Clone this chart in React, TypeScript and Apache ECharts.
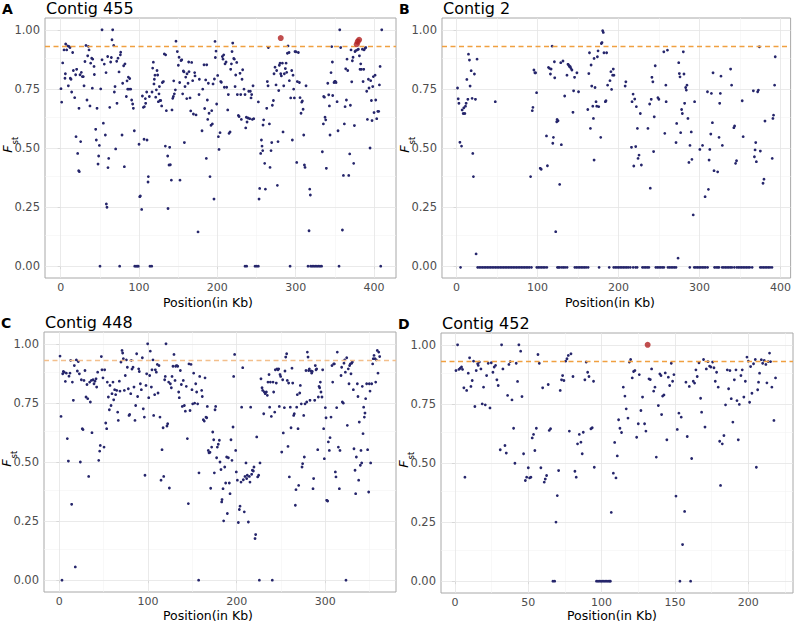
import React, { useEffect, useRef } from "react";
import * as echarts from "echarts";

// ---------------- DATA ----------------
const contig455: [number, number][] = [
[0.4,0.751],[1.3,0.694],[2.6,0.86],[4.3,0.915],[5.5,0.795],[6,0.814],[6.4,0.94],[7.7,0.915],[8.9,0.932],[9.8,0.763],[10.6,0.93],[11.9,0.925],[12.3,0.795],[13.2,0.791],[14,0.737],[15.3,0.904],[16.2,0.828],[17.9,0.713],[19.1,0.81],[19.6,0.548],[20.4,0.833],[21.7,0.477],[23,0.404],[23.4,0.668],[23.8,0.4],[24.7,0.81],[25.5,0.527],[26.4,0.82],[27.7,0.802],[28.9,0.802],[29.8,0.763],[31,0.866],[32.3,0.934],[33.6,0.703],[34.5,0.89],[35.3,0.93],[36.2,0.915],[37.4,0.678],[38.3,0.859],[39.6,0.88],[40.4,0.753],[40.9,0.876],[42.6,0.845],[43,0.811],[44.7,0.579],[45.5,0.534],[46.4,0.668],[47.7,0.432],[48.5,0.466],[49.4,0.511],[50.2,0],[51.1,0.75],[52.8,0.873],[52.8,1],[54.5,0.605],[55.7,0.855],[57,0.555],[57.9,0.819],[58.3,0.263],[59.1,0.249],[60,0.887],[60.4,0.417],[61.3,0.456],[62.6,0.672],[63.8,0.864],[64.7,0.883],[65.5,0.958],[66.4,1],[67.7,0.934],[68.5,0.737],[69.4,0.76],[70.2,0.496],[71.5,0.867],[71.9,0.689],[73.2,0.88],[74.5,0.822],[75.3,0],[76.2,0.894],[76.6,0.905],[78.3,0.555],[79.1,0.774],[80.4,0.848],[81.3,0.421],[82.1,0.856],[83.8,0.718],[84.7,0.784],[85.5,0.749],[86.4,0.8],[87.2,0.749],[88.1,0.794],[89.4,0.749],[90.6,0.703],[91.9,0.686],[92.8,0.668],[94,0.573],[94.5,0],[96.2,0],[97.9,0],[99.1,0],[100,0.516],[100.9,0.294],[101.7,0.297],[103.4,0.24],[104.3,0.72],[105.5,0.672],[106.4,0.537],[106.8,0.675],[108.1,0.709],[108.5,0.689],[109.8,0.737],[110.2,0.534],[111.5,0.356],[111.9,0.379],[113.2,0.718],[114,0],[116.2,0],[116.6,0.737],[117.4,0.838],[118.3,0.863],[119.1,0.771],[119.6,0.791],[120.4,0.808],[121.3,0.715],[122.1,0.746],[123,0.828],[123.8,0.809],[124.7,0.696],[125.5,0.729],[126,0.76],[126.8,0.701],[127.7,0.701],[128.9,0.678],[129.8,0.777],[131.1,0.781],[132.3,0.898],[133.6,0.508],[134,0.894],[134.9,0.658],[136.6,0.466],[137,0.244],[138.3,0.428],[139.1,0.503],[140,0.429],[141.3,0.364],[142.1,0.661],[143,0.71],[143.8,0.718],[144.3,0.784],[145.1,0.729],[146.4,0.746],[147.2,0.952],[148.9,0.908],[150.2,0.85],[151.1,0.884],[151.9,0.777],[152.3,0.364],[153.6,0.87],[154.5,0.873],[155.7,0.729],[156.6,0.826],[157.4,0.822],[157.9,0.523],[158.7,0.76],[159.6,0.8],[160.9,0.709],[161.3,0.814],[162.6,0.774],[163.4,0.864],[163.8,0.823],[165.1,0.712],[166,0.657],[167.2,0.862],[168.5,0.785],[169.4,0.644],[171,0.819],[171.5,0.805],[172.8,0.64],[175.3,0.145],[176.6,0.726],
[177,0.791],[180.4,0.573],[181.3,0.749],[183,0.852],[183.8,0.667],[185.1,0.788],[185.9,0.456],[186.4,0.852],[187.2,0.703],[187.7,0.621],[188.5,0.774],[189.4,0.647],[190.6,0.379],[191.9,0.596],[192.8,0.658],[193.6,0.602],[194.5,0.771],[195.7,0.284],[196.2,0.792],[197,0.951],[197.4,0.883],[198.3,0.91],[199.1,0.686],[200.4,0.807],[201.3,0.548],[202.1,0.494],[203.4,0.565],[204.3,0.781],[205.1,0.778],[206.4,0.887],[207.2,0.876],[208.1,0.894],[208.9,0.757],[209.8,0.856],[211.1,0.864],[211.9,0.757],[213.2,0.661],[214,0.726],[214.9,0.562],[216.2,0.568],[217,0.833],[217.9,0.856],[218.7,0.908],[219.6,0.944],[220.9,0.879],[221.7,0.876],[222.6,0.76],[223.4,0.809],[224.7,0.862],[225.5,0.726],[226.8,0.638],[227.7,0.633],[228.9,0.816],[229.8,0.726],[230.6,0.621],[231.5,0.791],[232.3,0.831],[234,0.749],[235.3,0.726],[236.2,0.585],[237,0.63],[235.3,0],[237.4,0],[237.9,0.61],[239.1,0.627],[240,0.74],[241.3,0.624],[242.1,0.74],[243,0.712],[243.8,0.726],[244.7,0.621],[245.5,0.763],[246.4,0.624],[248.1,0],[250.2,0],[252.3,0],[252.3,0.695],[253.2,0.284],[254,0.329],[255.3,0.477],[256.2,0.534],[257,0.508],[257.9,0.489],[258.3,0.597],[259.1,0.619],[260.4,0.435],[261.3,0.326],[263,0.668],[263.8,0.781],[264.7,0.763],[265.1,0.925],[266.4,0.602],[267.2,0.418],[268.5,0.489],[269.4,0.523],[270.2,0.681],[271.5,0.701],[272.3,0.814],[273.6,0.842],[274.9,0.767],[275.7,0.828],[276.6,0.342],[277.4,0.527],[278.3,0.743],[279.1,0.85],[280,0.859],[280.9,0.814],[281.7,0.805],[283,0.859],[283.8,0.568],[284.7,0.763],[285.5,0.814],[286.8,0.836],[287.7,0.859],[288.5,0.82],[289.4,0.901],[290.2,0.932],[291.5,0.904],[291.9,0.785],[292.8,0],[293.6,0.712],[294.9,0.828],[295.7,0.534],[296.6,0.808],[297.4,0.749],[298.3,0.712],[299.1,0.908],[300.4,0.907],[301.3,0.439],[302.1,0.781],[303.4,0.904],[304.7,0.777],[305.5,0.713],[306.8,0.647],[307.7,0.694],[308.5,0.699],[309.4,0.664],[310.2,0.555],[311.1,0.428],[311.9,0.418],[313.2,0.763],[315.7,0],[317,0.15],[317.9,0.326],[318.7,0.301],[319,0],[321,0],[323,0],[325,0],[327,0],[329,0],[331,0],[333,0],[334,0.484],[335.3,0.602],[335.7,0.718],[336.6,0.715],[337.4,0.63],[338.3,0.619],[339.1,0.414],[340.9,0.774],[342.1,0.725],[343,0.678],[343.8,0.555],[345.1,0.819],[346,0.929],[346.8,0.864],[347.2,0.722],[348.9,0.777],[349.8,0.782],[350.6,0.782],[351.5,0.777],[352.8,0.696],[354,0.573],[355.3,0],[356.2,1],[357.4,0.925],[359.6,0.153],[360.9,0.384],[362.1,0.602],[363,0.675],[363.8,0.835],[364.7,0.703],[365.5,0.876],[366.4,0.828],[367.7,0.384],[368.9,0.475],[369.8,0.681],[370.6,0.915],[371.5,0.78],[372.3,0.869],[373.2,0.884],[374,0.435],[374.9,0.595],[375.7,0.908],[376.6,0.912],[378.7,0.915],[380,0.918],[381.3,0.89],[382.1,0.833],[383,0.856],[383.8,0.833],[385.1,0.918],[386,0.781],[386.8,0.833],[387.2,0.915],[388.5,0.922],[389.4,0.925],[390.6,0.74],[391.5,0.621],[392.8,0.791],[393.6,0.754],[394.9,0.5],[395.7,0.785],[396.6,0.701],[397.4,0.616],[398.3,0.76],[399.1,0.802],[400,0.65],[401.3,0.808],[402.1,0.703],[403.4,0.624],[404.7,0.655],[406,0.655],[406.8,0.767],[407.7,0.845],[408.5,0],[409.8,1]
];
const contig455Outliers: [number, number][] = [[280.9,0.965],[377.9,0.939],[379.1,0.95],[380.9,0.958]];

const contig2: [number, number][] = [
[1.2,0.754],[2,0.708],[2.9,0.689],[4.1,0.524],[6.1,0.508],[6.9,0.661],[8.2,0.646],[9,0.67],[10.2,0.646],[11,0.677],[11.8,0.689],[12.7,0.79],[13.9,0.706],[14.7,0.897],[15.9,0.872],[16.7,0.762],[18,0.827],[19.2,0.71],[20,0.477],[20.8,0.379],[22,0.813],[23.3,0.706],[24.1,0.052],[25.3,0.876],[47.8,0.696],[91.4,0.379],[93.5,0.658],[94.3,0.672],[95.5,0.83],[96.7,0.818],[97.6,0.818],[98.8,0.734],[103.3,0.414],[104.5,0.41],[111,0.551],[112.2,0.425],[113.5,0.841],[114.7,0.837],[115.9,0.813],[116.7,0.834],[118,0.931],[118.8,0.52],[119.6,0.545],[120.8,0.865],[121.2,0.797],[122.4,0.146],[123.7,0.611],[124.1,0.621],[125.3,0.615],[127.3,0.346],[128.6,0.861],[129.4,0.514],[131.4,0.868],[133.5,0.72],[136.3,0.808],[137.6,0.854],[138.8,0.849],[139.6,0.844],[140.4,0.844],[141.2,0.837],[142.4,0.83],[143.7,0.651],[144.5,0.742],[145.7,0.799],[148.6,0.818],[150.6,0.738],[162,0.663],[163.3,0.815],[164.1,0.903],[165.3,0.583],[166.1,0.851],[166.9,0.762],[168.2,0.677],[169,0.625],[169.8,0.449],[169.8,0.879],[171,0.756],[172.2,0.696],[173.1,0.677],[173.9,0.886],[174.7,0.911],[175.5,0.675],[178,0.545],[178.8,0.942],[179.6,0.946],[180.4,0.996],[181.2,0.989],[182,0.903],[183.7,0.696],[184.5,0.7],[185.3,0.903],[186.5,0.766],[189.4,0.785],[190.6,0.823],[191.4,0.748],[192.7,0.808],[193.5,0.834],[194.3,0.808],[208.2,0.762],[209,0.78],[216,0.503],[216.7,0.696],[218,0.728],[218.8,0.424],[220,0.707],[221.2,0.506],[222,0.675],[223.3,0.583],[224.1,0.456],[225.3,0.47],[226.9,0.646],[228.2,0.428],[236.3,0.583],[238.4,0.686],[239.2,0.33],[240.4,0.706],[241.2,0.799],[242.4,0.78],[243.3,0.485],[244.1,0.632],[245.3,0.848],[248.6,0.713],[249.8,0.706],[255.9,0.907],[257.1,0.562],[258.4,0.766],[258.8,0.696],[260.4,0.914],[271,0.523],[271.8,0.604],[273.5,0.034],[274.3,0.861],[275.1,0.815],[275.9,0.801],[276.7,0.565],[277.9,0.663],[278.8,0.646],[280,0.907],[280.8,0.813],[281.6,0.689],[282.9,0.756],[283.7,0.745],[284.5,0.766],[285.7,0.625],[286.9,0.439],[288.2,0.511],[289.8,0.568],[290.6,0.452],[292.2,0.217],[293.9,0.696],[300.4,0.494],[303.7,0.511],[306.9,0.294],[309.8,0.738],[311,0.325],[311.8,0.449],[312.7,0.494],[313.9,0.559],[314.7,0.731],[315.9,0.607],[316.7,0.818],[317.9,0.404],[322.4,0.399],[324.1,0.545],[324.9,0.689],[325.7,0.731],[326.5,0.804],[328.2,0.511],[338.4,0.834],[339.6,0.766],[342.4,0.586],[343.3,0.593],[344.5,0.435],[345.7,0.446],[352.7,0.7],[353.9,0.548],[366.5,0.742],[367.8,0.463],[368.6,0.492],[369.4,0.523],[370.2,0.442],[371.8,0.738],[372.7,0.745],[373.9,0.928],[375.1,0.487],[378.4,0.351],[379.6,0.368],[380.8,0.614],[389.8,0.456],[390.6,0.625],[391.4,0.639],[392.7,0.766],[393.5,0.886]
];
// positions (Kb) of contig 2 SNPs with Fst of (slightly below) zero
const contig2ZeroPositions: number[] = [
4.9,26,28,30,32,34,36,38,40,42,44,46,48,50,52,54,56,58,60,62,64,66,68,70,72,74,76,78,80,82,84,86,88,90,92.5,
99,101,103,105,107,109,111.5,124.5,126,127.5,130,132,134,136.5,146,148,150,152,154,156,158,160,162.5,
176,188.5,194,196,198,200,202,204,206,208,210,212,214.5,218,221,223,229.5,231.5,233.5,235.5,237.5,
246,248,250,252,254,256,261,263,265,267,269,271,288,293.5,295.5,297.5,299.5,301.5,303.5,305.5,307.5,310,
318.5,320.5,322.5,324,328,330,332,334,336,338,340,343,346,348,350,352,354,356,358,360,362,365,
375,377,379,381,383,385,387,389.5
];
const contig2ZeroFst = -0.005;

const contig448: [number, number][] = [
[0.8,0.948],[1.9,0.693],[3,0],[3.8,0.873],[4.5,0.883],[5.6,0.88],[6.8,0.841],[7.9,0.876],[9,0.599],[10.2,0.504],[10.9,0.863],[12,0.876],[12.8,0.93],[13.9,0.321],[14.7,0.838],[15.8,0.761],[16.9,0.908],[18,0.056],[19.2,0.932],[20.3,0.885],[21.4,0.925],[22.6,0.873],[23.7,0.5],[24.8,0.848],[25.9,0.641],[26.7,0.637],[27.8,0.845],[28.9,0.887],[30.1,0.775],[31.2,0.828],[32,0.768],[33.1,0.439],[34.2,0.838],[35,0.754],[36.1,0.845],[36.8,0.624],[38,0.848],[39.1,0.831],[40.2,0.842],[41.4,0.852],[42.1,0.817],[43.2,0.88],[44.4,0.507],[45.5,0.546],[46.2,0.57],[47.4,0.946],[48.1,0.89],[49.2,0.856],[50.4,0.563],[51.1,0.89],[52.3,0.665],[53.4,0.641],[54.1,0.838],[55.3,0.775],[56.4,0.721],[57.1,0.824],[58.3,0.739],[59.4,0.789],[60.5,0.838],[61.3,0.763],[62.4,0.806],[63.5,0.785],[64.7,0.803],[65.8,0.711],[66.5,0.676],[67.7,0.842],[68.4,0.8],[69.5,0.923],[70.7,0.972],[71.4,0.961],[72.2,0.937],[73.3,0.803],[74.4,0.866],[75.6,0.932],[76.7,0.901],[77.8,0.81],[78.6,0.697],[79.3,0.701],[80.5,0.789],[81.2,0.93],[81.9,0.893],[83.1,0.901],[84.2,0.817],[85.3,0.676],[86.1,0.739],[87.2,0.958],[88.3,0.777],[89.5,0.894],[90.2,0.883],[91.4,0.831],[92.5,0.806],[93.6,0.941],[94.7,0.725],[95.9,0.69],[96.6,0.444],[97.7,0.824],[98.5,0.873],[99.6,1],[100.8,0.772],[101.9,0.866],[102.6,0.969],[103.8,0.817],[104.5,0.89],[105.6,0.932],[106.4,0.697],[107.5,0.785],[108.3,0.89],[109.4,0.88],[110.5,0.913],[111.3,0.792],[112.4,0.908],[113.5,0.69],[114.7,0.423],[115.8,0.552],[117,0.645],[117.7,0.439],[118.8,0.848],[119.5,0.862],[120.3,1],[121.4,0.652],[122.2,0.662],[123.3,0.838],[124.1,0.39],[125.2,0.831],[126.3,0.814],[127.1,0.862],[128.2,0.905],[129.3,0.955],[130.5,0.845],[131.2,0.905],[132.3,0.908],[133.5,0.905],[134.6,0.796],[135.3,0.772],[136.5,0.887],[137.6,0.828],[138.7,0.735],[139.8,0.845],[141,0.739],[142.1,0.715],[143.2,0.82],[144.4,0.599],[145.5,0.324],[146.2,0.915],[147.4,0.718],[148.5,0.913],[149.6,0.806],[150.4,0.746],[151.5,0.876],[152.6,0.749],[153.8,0.831],[154.9,0.796],[156,0.746],[157.1,0],[157.5,0.454],[158.3,0.862],
[160.5,0.803],[161.2,0.777],[162.4,0.679],[163.5,0.673],[164.3,0.856],[165.4,0.69],[166.2,0.687],[166.9,0.735],[168,0.549],[168.8,0.539],[169.9,0.541],[170.7,0.389],[171.8,0.563],[173,0.627],[174.1,0.594],[174.8,0.454],[175.6,0.721],[176.3,0.735],[177.4,0.518],[178.2,0.563],[179.3,0.575],[180.5,0.592],[181.2,0.5],[182.3,0.468],[183.1,0.331],[183.5,0.341],[184.6,0.387],[185.3,0.251],[186.5,0.479],[187.6,0.411],[188.7,0.521],[189.5,0.282],[190.6,0.518],[191.7,0.411],[192.5,0.366],[193.6,0.594],[194.7,0.507],[195.9,0.648],[196.6,0.862],[197.7,0.955],[198.9,0.549],[199.6,0.458],[200.8,0.423],[201.9,0.244],[203,0.299],[203.8,0.313],[204.9,0.415],[205.6,0.732],[206.8,0.899],[207.5,0.425],[208.6,0.289],[209.4,0.439],[210.5,0.496],[211.3,0.43],[212,0.444],[213.2,0.246],[214.3,0.439],[215,0.415],[215.8,0.732],[216.9,0.448],[217.7,0.465],[218.8,0.462],[219.5,0.479],[220.7,0.176],[221.4,0.193],[222.6,0.606],[223.7,0.437],[224.8,0.444],[225.6,0],[226.3,0.496],[227.4,0.852],[228.6,0.814],[229.3,0.803],[230.5,0.704],[231.2,0.796],[232.3,0.789],[233.5,0.796],[234.6,0.782],[235.3,0.838],[236.5,0.87],[237.2,0.732],[238,0.838],[239.1,0.693],[240.2,0],[241,0.838],[241.7,0.796],[242.9,0.711],[243.6,0.89],[244.7,0.834],[245.5,0.894],[246.6,0.89],[247.4,0.894],[248.1,0.735],[248.9,0.87],[249.6,0.862],[250.8,0.542],[251.9,0.848],[252.6,0.623],[253.8,0.73],[254.5,0.885],[255.3,0.944],[256.4,0.958],[257.1,0.845],[257.9,0.566],[258.6,0.834],[259.4,0.437],[260.5,0.732],[261.3,0.645],[262.4,0.897],[263.2,0.834],[264.3,0.697],[265,0.704],[266.2,0.317],[266.9,0.383],[267.7,0.732],[268.4,0.785],[269.2,0.641],[269.9,0.401],[271.1,0.792],[271.8,0.824],[272.9,0.746],[273.7,0.479],[274.4,0.493],[275.6,0.697],[276.3,0.521],[277.1,0.746],[278.2,0.887],[279,0.754],[279.7,0.965],[280.5,0.944],[281.2,0.887],[282,0.894],[282.7,0.761],[283.8,0.885],[284.6,0.876],[285.3,0.883],[286.1,0.387],[286.8,0.43],[288,0.761],[288.7,0.908],[289.5,0.89],[290.2,0.894],[291.4,0.552],[292.1,0.775],[292.9,0.82],[293.6,0.814],[294.4,0.838],[295.1,0.796],[296.2,0.775],[297,0.89],[298.1,0.641],[298.9,0.514],[300,0.73],[300.8,0.687],[301.5,0.338],[302.6,0.335],[303.4,0.585],[304.5,0.549],[305.3,0.603],[306.4,0.69],[307.5,0.908],[308.3,0.838],[309.4,0.915],[310.2,0.915],[311.3,0.458],[312,0.437],[312.8,0.73],[313.5,0.965],[314.7,0.563],[315.8,0.387],[316.5,0.549],[317.7,0.866],[318.4,0.901],[319.2,0.754],[320.3,0.749],[321,0.918],[321.8,0.932],[322.6,0.88],[323.3,0],[324.1,0.941],[324.8,0.655],[325.9,0.894],[326.7,0.831],[327.4,0.908],[328.2,0.915],[328.9,0.873],[329.7,0.918],[330.5,0.923],[331.6,0.806],[332.3,0.556],[333.5,0.465],[334.2,0.366],[335,0.521],[336.1,0.831],[336.8,0.777],[337.6,0.423],[338.3,0.669],[339.5,0.486],[340.2,0.549],[341,0.496],[341.7,0.82],[342.5,0.62],[343.2,0.732],[344,0.69],[344.7,0.707],[345.5,0.768],[346.6,0.831],[347.7,0.552],[348.9,0.373],[349.6,0.831],[350.4,0.8],[351.1,0.496],[352.3,0.831],[353.4,0.915],[354.1,0.937],[354.9,0.951],[356,0.937],[356.8,0.838],[357.5,0.932],[358.6,0.972],[359.4,0.876],[360.2,0.965],[361.3,0.946]
];

const contig452: [number, number][] = [
[0.7,0.891],[1.8,1],[2.7,0.896],[3.6,0.901],[4.5,0.906],[5.2,0.896],[6.1,0.818],[6.8,0.44],[8,0.807],[9.1,0.88],[10,0.945],[10.9,0.824],[11.8,0.849],[12.7,0.931],[13.6,0.739],[14.5,0.891],[15.5,0.92],[15.9,0.913],[16.6,0.927],[17.7,0.898],[18.6,0.75],[19.5,0.821],[20.7,0.746],[21.6,0.87],[22.7,0.922],[23.9,0.733],[24.8,0.924],[25.9,0.884],[26.8,0.906],[27.7,0.913],[28.6,0.852],[29.5,0.828],[30.9,0.556],[31.8,1],[32.7,0.898],[34.1,0.574],[35,0.542],[35.9,0.786],[36.8,0.917],[37.7,0.929],[38.9,0.767],[40,0.647],[40.9,0.499],[41.8,0.922],[42.7,0.845],[43.6,1],[44.8,0.973],[45.7,0.781],[46.8,0.539],[48,0.426],[48.9,0.44],[50,0.48],[50.9,0.437],[51.8,0.44],[52.7,0.606],[53.6,0.621],[54.5,0.553],[55.5,0.647],[56.6,0.959],[57.5,0.922],[58.6,0.48],[59.8,0.818],[60.9,0.419],[61.6,0.432],[62.5,0.447],[63.6,0.832],[64.3,0.638],[65.2,0.645],[66.8,0],[68,0],[68.9,0.25],[69.8,0.362],[70.7,0.468],[71.8,0.807],[72.7,0.852],[73.4,0.87],[74.3,0.849],[75.5,0.931],[76.4,0.941],[77.3,0.955],[78,0.635],[79.1,0.962],[80.5,0.866],[81.8,0.465],[82.7,0.44],[83.6,0.581],[84.8,0.621],[85.9,0.588],[86.8,0.539],[87.5,0.63],[88.6,0.852],[89.5,0.927],[90.5,0.884],[91.4,0.866],[92.7,0.645],[93.6,0.649],[94.5,0.846],[95,0.482],
[106.6,0.291],[108,0.457],[108.9,0.587],[109.8,0.437],[110.7,0.53],[111.6,0.683],[112.5,0.647],[113.6,0.629],[114.8,0.821],[115.9,0.783],[116.8,0.729],[118,0.69],[118.9,0.927],[119.8,0.938],[120.9,0.86],[121.8,0.887],[122.7,0.891],[123.9,0.609],[125,0.666],[125.7,0.874],[126.8,0.722],[127.9,0.779],[129.3,0.666],[130.2,0.635],[132.3,0.856],[133.2,0.853],[134.1,0.898],[135.5,0.804],[136.4,0.821],[137.3,0.525],[138.7,0.743],[139.7,0.877],[140.5,0.87],[140.9,0.705],[141.6,0.783],[142.5,0.788],[143.4,0.881],[144.5,0.598],[145.5,0.863],[146.4,0.828],[147.5,0.922],[148.4,0.846],[149.3,0.874],[150.7,0.36],[151.6,0.642],[152.7,0.711],[153.4,0],[154.3,0.694],[155.2,0.155],[156.6,0.295],[157.5,0.842],[158.4,0.612],[159.8,0.824],[160.7,0],[161.4,0.519],[162.5,0.846],[163.4,0.838],[164.3,0.894],[165.2,0.866],[166.4,0.924],[167.5,0.774],[168.2,0.715],[169.5,0.938],[170.5,0.652],[171.4,0.898],[172.5,0.929],[173.6,0.91],[174.5,0.906],[175.7,0.927],[176.6,0.903],[177.5,0.846],[178.4,0.884],[179.5,0.821],[180.5,0.592],[181.1,0.405],[182.3,0.581],[183.4,0.616],[184.5,0.746],[185.7,0.894],[186.6,0.814],[187.5,0.891],[188.4,0.772],[189.5,0.673],[190.5,0.852],[191.6,0.894],[192.3,0.764],[193.2,0.598],[193.9,0.748],[195,0.87],[195.9,0.894],[197,0.779],[198,0.846],[199.1,0.948],[200,0.931],[200.9,0.757],[201.6,0.908],[202.5,0.795],[203.6,0.92],[204.8,0.938],[205.5,0.482],[206.4,0.81],[207,0.842],[207.7,0.88],[208.9,0.937],[209.8,0.922],[210.9,0.934],[212,0.917],[212.7,0.839],[213.6,0.929],[214.5,0.965],[215.2,0.929],[216.1,0.821],[217.5,0.68],[218.6,0.86]
];
const contig452ZeroPositions: number[] = [96.5,97.5,98.5,99.5,100.5,101.5,102.5,103.5,104.5,105.5,106];
const contig452Outliers: [number, number][] = [[131.4,1.0]];

const fstThreshold = 0.93;
const yTicks = [0, 0.25, 0.5, 0.75, 1];
const yMinorTicks = [0.125, 0.375, 0.625, 0.875];
const xTicksWide = [0, 100, 200, 300, 400];
const xMinorWide = [50, 150, 250, 350];
const xTicks448 = [0, 100, 200, 300];
const xMinor448 = [50, 150, 250, 350];
const xTicks452 = [0, 50, 100, 150, 200];
const xMinor452 = [25, 75, 125, 175, 225];

// ---------------- CHART ----------------
const FONT = "'DejaVu Sans', sans-serif";
const NAVY = "#25256b";
const RED = "#b22222";
const ORANGE = "#f0a040";
const BORDER = "#a8a8a8";

type Panel = {
  letter: string; title: string; left: number; top: number; width: number; height: number;
  xMin: number; xMax: number; xTicks: number[]; xMinor: number[];
  points: [number, number][]; outliers: [number, number][]; threshColor: string;
  axisTitleX: number; axisTitleY: number;
};

const panels: Panel[] = [
  { letter: "A", title: "Contig 455", left: 45, top: 18, width: 351, height: 260, xMin: -20, xMax: 428,
    xTicks: xTicksWide, xMinor: xMinorWide, points: contig455, outliers: contig455Outliers, threshColor: ORANGE,
    axisTitleX: 208, axisTitleY: 302 },
  { letter: "B", title: "Contig 2", left: 442, top: 18, width: 351, height: 260, xMin: -18, xMax: 412.5,
    xTicks: xTicksWide, xMinor: xMinorWide,
    points: contig2.concat(contig2ZeroPositions.map((x) => [x, contig2ZeroFst] as [number, number])),
    outliers: [], threshColor: ORANGE, axisTitleX: 610, axisTitleY: 302 },
  { letter: "C", title: "Contig 448", left: 44, top: 332, width: 352, height: 260, xMin: -17.3, xMax: 379.7,
    xTicks: xTicks448, xMinor: xMinor448, points: contig448, outliers: [], threshColor: "#f3bf8c",
    axisTitleX: 208, axisTitleY: 615 },
  { letter: "D", title: "Contig 452", left: 441, top: 333, width: 352, height: 260, xMin: -9.5, xMax: 230.5,
    xTicks: xTicks452, xMinor: xMinor452,
    points: contig452.concat(contig452ZeroPositions.map((x) => [x, 0] as [number, number])),
    outliers: contig452Outliers, threshColor: ORANGE, axisTitleX: 612, axisTitleY: 615 },
];

function buildOption() {
  const grid: any[] = [];
  const xAxis: any[] = [];
  const yAxis: any[] = [];
  const series: any[] = [];
  const graphic: any[] = [];

  panels.forEach((p, i) => {
    grid.push({ left: p.left, top: p.top, width: p.width, height: p.height, show: true,
      borderColor: BORDER, borderWidth: 1, backgroundColor: "transparent", containLabel: false });
    xAxis.push({ type: "value", gridIndex: i, min: p.xMin, max: p.xMax,
      axisLine: { show: false },
      axisTick: { show: true, length: 3, lineStyle: { color: BORDER }, customValues: p.xTicks },
      axisLabel: { customValues: p.xTicks, color: "#4d4d4d", fontSize: 11, lineHeight: 11, fontFamily: FONT, margin: 4 },
      splitLine: { show: false } });
    yAxis.push({ type: "value", gridIndex: i, min: -0.05, max: 1.05,
      axisLine: { show: false },
      axisTick: { show: true, length: 3, lineStyle: { color: BORDER }, customValues: yTicks },
      axisLabel: { customValues: yTicks, color: "#4d4d4d", fontSize: 11.5, fontFamily: FONT, margin: 5,
        formatter: (v: number) => v.toFixed(2) },
      splitLine: { show: false } });

    const gl: any[] = [];
    p.xMinor.forEach((v) => gl.push({ xAxis: v, lineStyle: { color: "#f3f3f3", width: 0.6 } }));
    yMinorTicks.forEach((v) => gl.push({ yAxis: v, lineStyle: { color: "#f3f3f3", width: 0.6 } }));
    p.xTicks.forEach((v) => gl.push({ xAxis: v, lineStyle: { color: "#e4e4e4", width: 0.8 } }));
    yTicks.forEach((v) => gl.push({ yAxis: v, lineStyle: { color: "#e4e4e4", width: 0.8 } }));
    series.push({ type: "line", xAxisIndex: i, yAxisIndex: i, data: [], z: 1, silent: true,
      markLine: { z: 1, silent: true, symbol: ["none", "none"], label: { show: false }, animation: false,
        lineStyle: { type: "solid" }, data: gl } });

    series.push({ type: "scatter", xAxisIndex: i, yAxisIndex: i, data: p.points, z: 2, silent: true,
      symbol: "circle", symbolSize: 2.8, itemStyle: { color: NAVY, opacity: 1 } });

    series.push({ type: "line", xAxisIndex: i, yAxisIndex: i, data: [], z: 3, silent: true,
      markLine: { z: 3, silent: true, symbol: ["none", "none"], label: { show: false }, animation: false,
        data: [{ yAxis: fstThreshold }],
        lineStyle: { color: p.threshColor, width: 1.3, type: [5, 3.5] } } });

    if (p.outliers.length) {
      series.push({ type: "scatter", xAxisIndex: i, yAxisIndex: i, data: p.outliers, z: 4, silent: true,
        symbol: "circle", symbolSize: 6, itemStyle: { color: RED } });
    }

    const midY = p.top + p.height / 2;
    const fx = p.left - 38;
    graphic.push(
      { type: "text", x: p.left - 43, y: p.top - 9.5, style: { text: p.letter, fontSize: 14, fontWeight: "bold",
          fontFamily: FONT, fill: "#000", align: "left", verticalAlign: "middle" } },
      { type: "text", x: p.left + 1, y: p.top - 9.5, style: { text: p.title, fontSize: 16,
          fontFamily: FONT, fill: "#000", align: "left", verticalAlign: "middle" } },
      { type: "text", x: p.axisTitleX, y: p.axisTitleY, style: { text: "Position(in Kb)", fontSize: 12.5,
          lineHeight: 13, fontFamily: FONT, fill: "#000", align: "center", verticalAlign: "middle" } },
      { type: "text", x: fx, y: midY + 1, rotation: Math.PI / 2, style: { text: "F", fontSize: 13, fontStyle: "italic",
          fontFamily: FONT, fill: "#000", align: "center", verticalAlign: "middle" } },
      { type: "text", x: fx + 8, y: midY - 7.5, rotation: Math.PI / 2, style: { text: "st", fontSize: 8.5,
          fontFamily: FONT, fill: "#000", align: "center", verticalAlign: "middle" } }
    );
  });

  return { animation: false, textStyle: { fontFamily: FONT }, grid, xAxis, yAxis, series, graphic };
}

export default function App() {
  const ref = useRef<HTMLDivElement>(null);
  useEffect(() => {
    if (!ref.current) return;
    const chart = echarts.init(ref.current, undefined, { renderer: "svg" });
    chart.setOption(buildOption() as any);
    return () => chart.dispose();
  }, []);
  return (
    <div ref={ref} style={{ position: "absolute", left: 0, top: 0, width: 794, height: 623, background: "#fff" }} />
  );
}
